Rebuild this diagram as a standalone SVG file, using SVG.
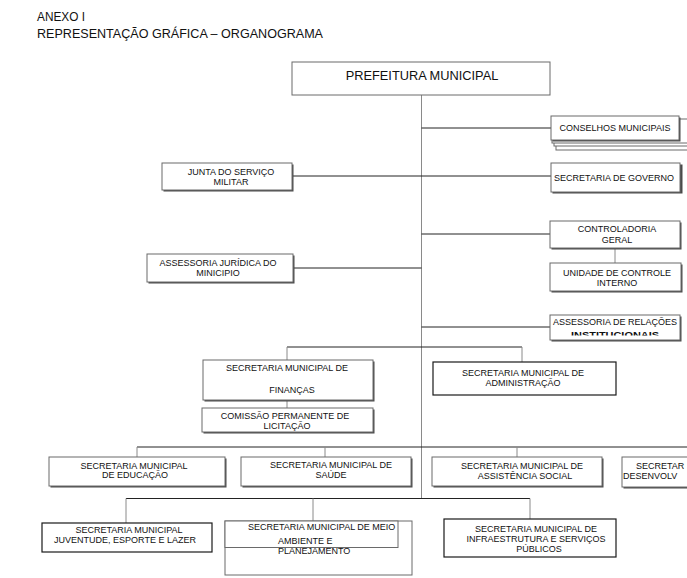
<svg xmlns="http://www.w3.org/2000/svg" width="687" height="578" viewBox="0 0 687 578">
<defs>
<style>
.bg{fill:#fff}
.box{fill:#fff;stroke:#6a6a6a;stroke-width:1}
.dark{fill:#fff;stroke:#1a1a1a;stroke-width:1.2}
.sh{fill:#4a4a4a}
.t{font-family:"Liberation Sans",Arial,sans-serif;font-size:9px;fill:#111;text-anchor:middle}
.ts{font-family:"Liberation Sans",Arial,sans-serif;font-size:9px;fill:#111}
.h{font-family:"Liberation Sans",Arial,sans-serif;font-size:13px;fill:#111}
.trunk{stroke:#8a8a8a;stroke-width:1;fill:none}
.ln{stroke:#222;stroke-width:1;fill:none}
.gl{stroke:#8a8a8a;stroke-width:1;fill:none}
</style>
<clipPath id="cutInst"><rect x="550" y="315" width="137" height="20.5"/></clipPath>
</defs>
<rect class="bg" x="0" y="0" width="687" height="578"/>

<g id="header">
<text class="h" x="37" y="21" textLength="48" lengthAdjust="spacingAndGlyphs">ANEXO I</text>
<text class="h" x="37" y="38" textLength="286" lengthAdjust="spacingAndGlyphs">REPRESENTAÇÃO GRÁFICA – ORGANOGRAMA</text>
</g>

<g id="connectors">
<line class="trunk" x1="421.5" y1="95" x2="421.5" y2="498"/>
<line class="ln" x1="421.5" y1="128" x2="551" y2="128"/>
<line class="ln" x1="292" y1="176" x2="551" y2="176"/>
<line class="ln" x1="421.5" y1="234" x2="550" y2="234"/>
<line class="ln" x1="293" y1="268" x2="421.5" y2="268"/>
<line class="gl" x1="615" y1="248" x2="615" y2="263"/>
<line class="ln" x1="421.5" y1="327" x2="550" y2="327"/>
<line class="ln" x1="287" y1="347" x2="522" y2="347"/>
<line class="gl" x1="287" y1="347" x2="287" y2="360"/>
<line class="gl" x1="522" y1="347" x2="522" y2="362"/>
<line class="gl" x1="287" y1="400" x2="287" y2="408"/>
<line class="ln" x1="137" y1="447" x2="687" y2="447"/>
<line class="gl" x1="137" y1="447" x2="137" y2="457"/>
<line class="gl" x1="325" y1="447" x2="325" y2="457"/>
<line class="gl" x1="517" y1="447" x2="517" y2="457"/>
<line class="ln" x1="126" y1="498.5" x2="530" y2="498.5"/>
<line class="gl" x1="126" y1="498.5" x2="126" y2="523"/>
<line class="gl" x1="313" y1="498.5" x2="313" y2="521"/>
<line class="gl" x1="530" y1="498.5" x2="530" y2="519"/>
</g>

<g id="prefeitura">
<rect class="box" x="292" y="62" width="258" height="33"/>
<text class="t" x="422" y="80" style="font-size:12.8px">PREFEITURA MUNICIPAL</text>
</g>

<g id="conselhos">
<rect class="box" x="556" y="126" width="140" height="24"/>
<rect class="box" x="554" y="122" width="140" height="24"/>
<rect class="box" x="552" y="119" width="140" height="24"/>
<rect class="sh" x="552.5" y="117.5" width="128" height="24"/>
<rect class="box" x="551" y="116" width="128" height="24"/>
<text class="t" x="615" y="131">CONSELHOS MUNICIPAIS</text>
</g>

<g id="governo">
<rect class="sh" x="552.5" y="164.5" width="130" height="29"/>
<rect class="box" x="551" y="163" width="129" height="29"/>
<text class="t" x="614" y="181">SECRETARIA DE GOVERNO</text>
</g>

<g id="junta">
<rect class="sh" x="163.5" y="164.5" width="130" height="27"/>
<rect class="box" x="162" y="163" width="130" height="27"/>
<text class="t" x="231" y="175">JUNTA DO SERVIÇO</text>
<text class="t" x="231" y="185">MILITAR</text>
</g>

<g id="controladoria">
<rect class="sh" x="551.5" y="222.5" width="130" height="27"/>
<rect class="box" x="550" y="221" width="130" height="27"/>
<text class="t" x="617" y="232">CONTROLADORIA</text>
<text class="t" x="617" y="243">GERAL</text>
</g>

<g id="assessoria-juridica">
<rect class="sh" x="148.5" y="255.5" width="146" height="28"/>
<rect class="box" x="147" y="254" width="146" height="28"/>
<text class="t" x="218" y="266">ASSESSORIA JURÍDICA DO</text>
<text class="t" x="218" y="275.5">MINICIPIO</text>
</g>

<g id="unidade-controle">
<rect class="sh" x="551.5" y="264.5" width="131" height="28"/>
<rect class="box" x="550" y="263" width="131" height="28"/>
<text class="t" x="617" y="276">UNIDADE DE CONTROLE</text>
<text class="t" x="617" y="286">INTERNO</text>
</g>

<g id="assessoria-relacoes">
<rect class="sh" x="551.5" y="316.5" width="130" height="25"/>
<rect class="box" x="550" y="315" width="130" height="25"/>
<text class="t" x="615" y="325">ASSESSORIA DE RELAÇÕES</text>
<text class="t" x="615" y="338" clip-path="url(#cutInst)" style="font-weight:bold;font-size:8.5px" textLength="88" lengthAdjust="spacingAndGlyphs">INSTITUCIONAIS</text>
</g>

<g id="financas">
<rect class="sh" x="204.5" y="361.5" width="170" height="40"/>
<rect class="box" x="203" y="360" width="170" height="40"/>
<text class="t" x="287" y="371">SECRETARIA MUNICIPAL DE</text>
<text class="t" x="292" y="393">FINANÇAS</text>
</g>

<g id="administracao">
<rect class="dark" x="433" y="362" width="183" height="33"/>
<text class="t" x="523" y="376">SECRETARIA MUNICIPAL DE</text>
<text class="t" x="523" y="386">ADMINISTRAÇÃO</text>
</g>

<g id="comissao">
<rect class="sh" x="203.5" y="409.5" width="171" height="24"/>
<rect class="box" x="202" y="408" width="171" height="24"/>
<text class="t" x="285" y="419">COMISSÃO PERMANENTE DE</text>
<text class="t" x="287" y="428.5">LICITAÇÃO</text>
</g>

<g id="educacao">
<rect class="sh" x="50.5" y="458.5" width="176" height="29"/>
<rect class="box" x="49" y="457" width="176" height="29"/>
<text class="t" x="134" y="468.5">SECRETARIA MUNICIPAL</text>
<text class="t" x="135" y="478">DE EDUCAÇÃO</text>
</g>

<g id="saude">
<rect class="sh" x="242.5" y="458.5" width="170" height="29"/>
<rect class="box" x="241" y="457" width="170" height="29"/>
<text class="t" x="331" y="468">SECRETARIA MUNICIPAL DE</text>
<text class="t" x="331" y="477.5">SAÚDE</text>
</g>

<g id="assistencia">
<rect class="sh" x="433.5" y="458.5" width="170" height="29"/>
<rect class="box" x="432" y="457" width="170" height="29"/>
<text class="t" x="522" y="469">SECRETARIA MUNICIPAL DE</text>
<text class="t" x="525" y="478.5">ASSISTÊNCIA SOCIAL</text>
</g>

<g id="desenvolvimento">
<rect class="sh" x="623.5" y="458.5" width="80" height="30"/>
<rect class="box" x="622" y="457" width="80" height="30"/>
<text class="ts" x="636" y="469">SECRETAR</text>
<text class="ts" x="623" y="478.5">DESENVOLV</text>
</g>

<g id="juventude">
<rect class="dark" x="42" y="523" width="170" height="29"/>
<text class="t" x="129" y="533">SECRETARIA MUNICIPAL</text>
<text class="t" x="125" y="543">JUVENTUDE, ESPORTE E LAZER</text>
</g>

<g id="meio-ambiente">
<rect class="box" x="225" y="521" width="187" height="54"/>
<rect class="box" x="225" y="521" width="173" height="26.5"/>
<text class="ts" x="248" y="530">SECRETARIA MUNICIPAL DE MEIO</text>
<text class="ts" x="278" y="544">AMBIENTE E</text>
<text class="ts" x="278" y="554">PLANEJAMENTO</text>
</g>

<g id="infraestrutura">
<rect class="dark" x="444" y="519" width="172" height="38"/>
<text class="t" x="536" y="532">SECRETARIA MUNICIPAL DE</text>
<text class="t" x="536" y="542">INFRAESTRUTURA E SERVIÇOS</text>
<text class="t" x="539" y="552">PÚBLICOS</text>
</g>
</svg>
